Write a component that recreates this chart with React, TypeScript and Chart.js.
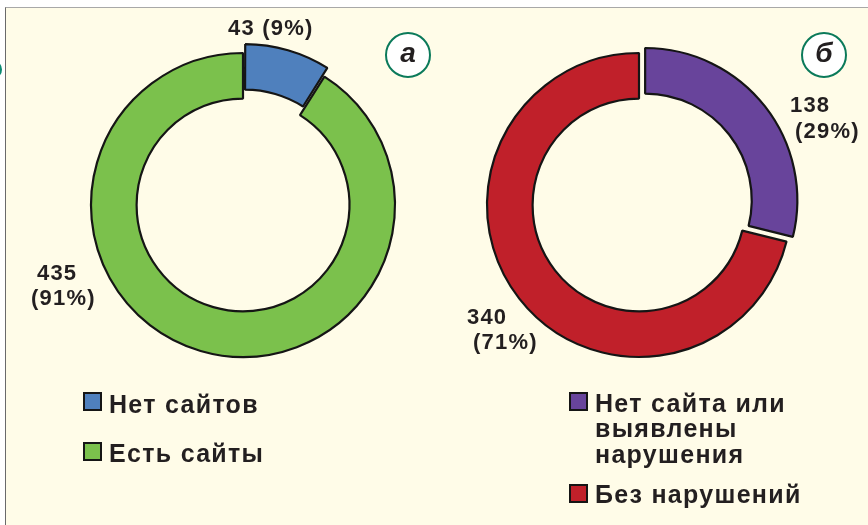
import React, { useEffect, useRef } from "react";
import Chart from "chart.js/auto";

const leftCategories = ["Нет сайтов", "Есть сайты"];
const leftValues = [43, 435];
const leftColors = ["#4f80bd", "#7bc14c"];
const leftOffsets = [25, 0];

const rightCategories = ["Нет сайта или выявлены нарушения", "Без нарушений"];
const rightValues = [138, 340];
const rightColors = ["#68449b", "#c0202a"];
const rightOffsets = [31, 0];

const TEXT = "#231f20";
const FONT = "'Liberation Sans', Arial, sans-serif";

function Donut(props: { values: number[]; labels: string[]; colors: string[]; offsets: number[]; left: number; top: number }) {
  const ref = useRef<HTMLCanvasElement | null>(null);
  useEffect(() => {
    if (!ref.current) return;
    const chart = new Chart(ref.current, {
      type: "doughnut",
      data: {
        labels: props.labels,
        datasets: [
          {
            data: props.values,
            backgroundColor: props.colors,
            borderColor: "#151515",
            borderWidth: 2.2,
            offset: props.offsets,
            hoverOffset: 0,
          } as any,
        ],
      },
      options: {
        responsive: false,
        maintainAspectRatio: false,
        devicePixelRatio: 1,
        animation: false,
        radius: 152,
        cutout: "70%",
        layout: { padding: 0 },
        plugins: { legend: { display: false }, tooltip: { enabled: false } },
        events: [],
      } as any,
    });
    return () => chart.destroy();
  }, []);
  return (
    <canvas
      ref={ref}
      width={340}
      height={340}
      style={{ position: "absolute", left: props.left, top: props.top, width: 340, height: 340 }}
    />
  );
}

function Txt(props: { x: number; y: number; size: number; ls: number; children: any }) {
  return (
    <div
      style={{
        position: "absolute",
        left: props.x,
        top: props.y,
        fontFamily: FONT,
        fontWeight: 700,
        fontSize: props.size,
        lineHeight: props.size + "px",
        letterSpacing: props.ls,
        color: TEXT,
        whiteSpace: "nowrap",
      }}
    >
      {props.children}
    </div>
  );
}

function Box(props: { x: number; y: number; color: string }) {
  return (
    <div
      style={{
        position: "absolute",
        left: props.x,
        top: props.y,
        width: 19,
        height: 19,
        boxSizing: "border-box",
        border: "2px solid #151515",
        background: props.color,
      }}
    />
  );
}

function Badge(props: { cx: number; cy: number; letter: string }) {
  const r = 23;
  return (
    <div
      style={{
        position: "absolute",
        left: props.cx - r,
        top: props.cy - r,
        width: 2 * r,
        height: 2 * r,
        boxSizing: "border-box",
        borderRadius: "50%",
        border: "2.5px solid #0b7a5a",
        background: "#ffffff",
        display: "flex",
        alignItems: "center",
        justifyContent: "center",
        fontFamily: FONT,
        fontWeight: 700,
        fontStyle: "italic",
        fontSize: 28,
        color: TEXT,
        lineHeight: "28px",
      }}
    >
      <span style={{ marginTop: -4 }}>{props.letter}</span>
    </div>
  );
}

const NS = 22;
const NLS = 1.2;

export default function App() {
  return (
    <div style={{ position: "absolute", left: 0, top: 0, width: 868, height: 525, overflow: "hidden", background: "#ffffff" }}>
      <div
        style={{
          position: "absolute",
          left: 5,
          top: 7,
          width: 900,
          height: 600,
          background: "#fffce8",
          borderLeft: "1.5px solid #6a6a6a",
          borderTop: "1px solid #a8a8a8",
        }}
      />
      <div
        style={{
          position: "absolute",
          left: -17,
          top: 60,
          width: 19,
          height: 19,
          boxSizing: "border-box",
          borderRadius: "50%",
          border: "2.5px solid #0b8a70",
        }}
      />
      <Donut values={leftValues} labels={leftCategories} colors={leftColors} offsets={leftOffsets} left={73} top={35} />
      <Donut values={rightValues} labels={rightCategories} colors={rightColors} offsets={rightOffsets} left={469} top={35} />

      <Txt x={228} y={17} size={NS} ls={NLS}>{`${leftValues[0]} (9%)`}</Txt>
      <Txt x={37} y={262} size={NS} ls={NLS}>{`${leftValues[1]}`}</Txt>
      <Txt x={31} y={287} size={NS} ls={NLS}>(91%)</Txt>
      <Txt x={790} y={94} size={NS} ls={NLS}>{`${rightValues[0]}`}</Txt>
      <Txt x={795} y={120} size={NS} ls={NLS}>(29%)</Txt>
      <Txt x={467} y={306} size={NS} ls={NLS}>{`${rightValues[1]}`}</Txt>
      <Txt x={473} y={331} size={NS} ls={NLS}>(71%)</Txt>

      <Badge cx={408} cy={55} letter="а" />
      <Badge cx={824} cy={55} letter="б" />

      <Box x={83} y={392} color={leftColors[0]} />
      <Txt x={109} y={392} size={25} ls={1.3}>{leftCategories[0]}</Txt>
      <Box x={83} y={442} color={leftColors[1]} />
      <Txt x={109} y={441} size={25} ls={1.3}>{leftCategories[1]}</Txt>

      <Box x={569} y={392} color={rightColors[0]} />
      <Txt x={595} y={391} size={25} ls={1.3}>Нет сайта или</Txt>
      <Txt x={595} y={416} size={25} ls={1.3}>выявлены</Txt>
      <Txt x={595} y={442} size={25} ls={1.3}>нарушения</Txt>
      <Box x={569} y={484} color={rightColors[1]} />
      <Txt x={595} y={482} size={25} ls={1.3}>{rightCategories[1]}</Txt>
    </div>
  );
}
